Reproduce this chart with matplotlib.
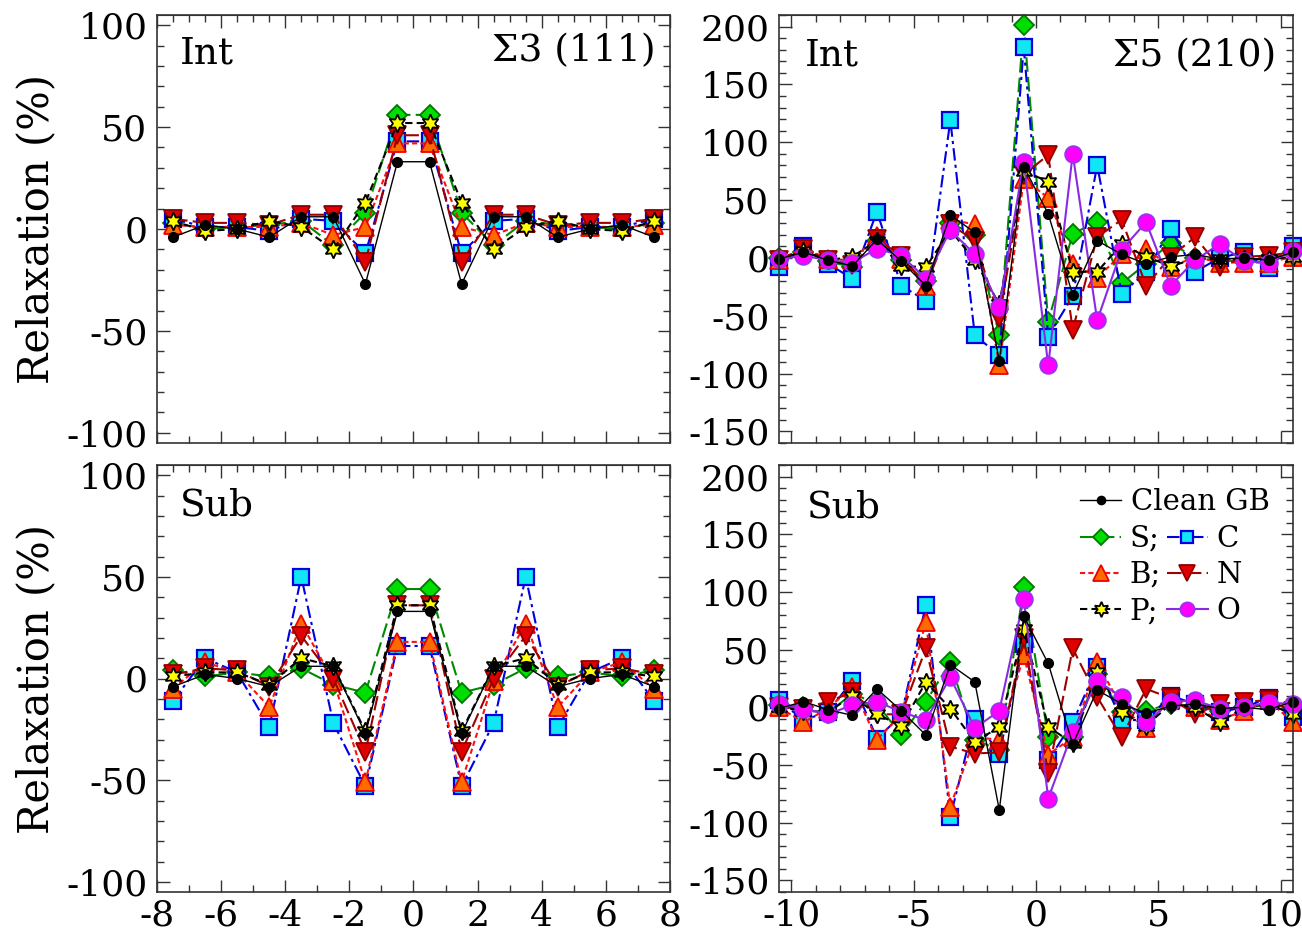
import matplotlib
matplotlib.use("Agg")
import matplotlib.pyplot as plt
from matplotlib.ticker import MultipleLocator, FuncFormatter
from matplotlib.lines import Line2D

plt.rcParams['font.family'] = ['DejaVu Serif']

# ---------------- data ----------------
x_s3 = [-7.5, -6.5, -5.5, -4.5, -3.5, -2.5, -1.5, -0.5, 0.5, 1.5, 2.5, 3.5, 4.5, 5.5, 6.5, 7.5]
x_s5 = [-10.5, -9.5, -8.5, -7.5, -6.5, -5.5, -4.5, -3.5, -2.5, -1.5, -0.5,
        0.5, 1.5, 2.5, 3.5, 4.5, 5.5, 6.5, 7.5, 8.5, 9.5, 10.5]

clean_s3 = [-4, 2, 0, -4, 6, 6, -27, 33, 33, -27, 6, 6, -4, 0, 2, -4]
clean_s5 = [-1, 5, -2, -7, 16, -3, -24, 37, 22, -89, 79, 38, -32, 15, 3, -5, 1, 3, -1, 0, -2, 5]

# Sigma3 (111) interstitial
s3_int_S = [3, 0, 1, 2, 4, -8, 8, 56, 56, 8, -8, 4, 2, 1, 0, 3]
s3_int_C = [5, 1, 1, -1, 5, 4, -12, 43, 43, -12, 4, 5, -1, 1, 1, 5]
s3_int_B = [2, 1, 1, 1, 3, -3, 1, 42, 42, 1, -3, 3, 1, 1, 1, 2]
s3_int_N = [5, 3, 3, 2, 7, 7, -16, 46, 46, -16, 7, 7, 2, 3, 3, 5]
s3_int_P = [4, -1, 0, 4, 1, -10, 13, 52, 52, 13, -10, 1, 4, 0, -1, 4]

# Sigma3 (111) substitutional
s3_sub_S = [4, 1, 3, 1, 5, -3, -7, 44, 44, -7, -3, 5, 1, 3, 1, 4]
s3_sub_C = [-11, 10, 3, -24, 50, -22, -53, 16, 16, -53, -22, 50, -24, 3, 10, -11]
s3_sub_B = [-5, 8, 3, -14, 27, -1, -51, 18, 18, -51, -1, 27, -14, 3, 8, -5]
s3_sub_N = [2, 5, 4, -4, 21, 0, -36, 36, 36, -36, 0, 21, -4, 4, 5, 2]
s3_sub_P = [1, 3, 3, -3, 10, 6, -26, 36, 36, -26, 6, 10, -3, 3, 3, 1]

# Sigma5 (210) interstitial
s5_int_S = [0, 5, -3, -8, 15, -2, -20, 30, 20, -67, 201, -55, 21, 31, -22, -5, 13, 0, -2, -3, 0, 5]
s5_int_C = [-8, 10, -5, -18, 40, -24, -37, 119, -67, -84, 182, -68, -33, 80, -31, -12, 25, -12, 0, 5, -9, 10]
s5_int_B = [-2, 9, -1, -2, 19, -1, -24, 33, 29, -93, 68, 52, -5, -17, 3, 8, -8, 1, -4, -4, -4, 1]
s5_int_N = [-2, 8, -2, -6, 16, 2, -24, 29, 15, -52, 72, 89, -62, 18, 33, -24, 1, 18, -8, 1, 2, 5]
s5_int_P = [-2, 6, -2, 1, 15, -7, -8, 24, -2, -40, 75, 66, -12, -12, 12, 1, -7, -1, -1, -1, -1, 1]
s5_int_O = [-1, 2, -2, -4, 8, 2, -18, 24, 3, -42, 83, -93, 90, -54, 7, 31, -24, -2, 12, -3, -4, 6]

# Sigma5 (210) substitutional
s5_sub_S = [2, 0, -5, 12, 3, -24, 5, 39, -28, -37, 104, -26, -26, 29, -4, -3, 3, 0, -3, 0, 2, -5]
s5_sub_C = [6, -11, -4, 23, -27, -7, 89, -95, -10, -40, 55, -46, -13, 35, -11, -11, 10, 3, -4, 0, 8, -8]
s5_sub_B = [0, -13, -1, 18, -28, -6, 74, -86, -26, -28, 45, -41, -26, 39, 0, -18, 8, 0, -11, -3, 6, -13]
s5_sub_N = [0, -1, 5, 13, -6, -6, 51, -34, -40, -39, 60, -57, 51, 9, -26, 16, 8, -6, 3, 5, 6, -3]
s5_sub_P = [0, -3, -4, 10, -6, -16, 22, -1, -30, -17, 68, -17, -31, 31, -4, -16, 3, 0, -13, 0, 3, -6]
s5_sub_O = [3, -1, -6, 2, 5, -4, -11, 26, -18, -3, 94, -79, -21, 23, 9, -13, 5, 6, -1, 0, 4, 3]

# ---------------- styles ----------------
STY = {
    'S': dict(color='#008a00', ls=(0, (7, 2.5)), lw=1.5, marker='D', ms=10,
              mfc='#00dd00', mec='#007700', mew=1.3),
    'C': dict(color='#0000e0', ls=(0, (6, 2, 1.5, 2)), lw=1.5, marker='s', ms=11,
              mfc='#11e6f5', mec='#0000e0', mew=1.6),
    'B': dict(color='#ff1010', ls=(0, (2.5, 1.5)), lw=1.5, marker='^', ms=13,
              mfc='#ff6a00', mec='#ee0000', mew=1.3),
    'N': dict(color='#a00000', ls=(0, (7, 2.5)), lw=1.5, marker='v', ms=13,
              mfc='#e00000', mec='#900000', mew=1.3),
    'P': dict(color='#000000', ls=(0, (3.5, 2)), lw=1.5, marker=(6, 1, 0), ms=13,
              mfc='#ffff00', mec='#000000', mew=1.3),
    'O': dict(color='#8a2be2', ls='-', lw=1.5, marker='o', ms=12,
              mfc='#ff00ff', mec='#9933ee', mew=1.3),
    'clean': dict(color='#000000', ls='-', lw=1.0, marker='o', ms=7,
                  mfc='#000000', mec='#000000', mew=1.0),
}

W, H = 1302, 938
fig = plt.figure(figsize=(W / 100, H / 100), dpi=100)


def px_axes(x0, y0, x1, y1):
    return fig.add_axes([x0 / W, 1 - y1 / H, (x1 - x0) / W, (y1 - y0) / H])


TICK_FS = 26


def style_axes(ax, xmaj, xmin, ymaj, ymin, top_minor):
    ax.xaxis.set_major_locator(MultipleLocator(xmaj))
    ax.xaxis.set_minor_locator(MultipleLocator(xmin))
    ax.yaxis.set_major_locator(MultipleLocator(ymaj))
    ax.yaxis.set_minor_locator(MultipleLocator(ymin))
    ax.tick_params(which='both', direction='in', top=False, right=True,
                   labelsize=TICK_FS, color='#333333', width=1.0)
    ax.tick_params(which='major', length=9)
    ax.tick_params(which='minor', length=5)
    for sp in ax.spines.values():
        sp.set_color('#333333')
        sp.set_linewidth(1.2)
    sec = ax.secondary_xaxis('top')
    sec.xaxis.set_major_locator(MultipleLocator(xmaj))
    sec.xaxis.set_minor_locator(MultipleLocator(top_minor))
    sec.tick_params(which='both', direction='in', labeltop=False, color='#333333', width=1.0)
    sec.tick_params(which='major', length=9)
    sec.tick_params(which='minor', length=5)
    sec.spines['top'].set_color('#333333')
    ax.xaxis.set_major_formatter(FuncFormatter(lambda v, p: '%d' % v))
    ax.yaxis.set_major_formatter(FuncFormatter(lambda v, p: '%d' % v))


def plot_series(ax, x, series):
    for key, y in series:
        st = STY[key]
        ax.plot(x, y, color=st['color'], ls=st['ls'], lw=st['lw'], marker=st['marker'],
                ms=st['ms'], mfc=st['mfc'], mec=st['mec'], mew=st['mew'], clip_on=False)


# panels
ax1 = px_axes(157, 15, 670, 443)
ax2 = px_axes(779, 15, 1293, 443)
ax3 = px_axes(157, 465, 670, 892)
ax4 = px_axes(779, 465, 1293, 892)

plot_series(ax1, x_s3, [('S', s3_int_S), ('C', s3_int_C), ('B', s3_int_B), ('N', s3_int_N),
                        ('P', s3_int_P), ('clean', clean_s3)])
plot_series(ax3, x_s3, [('S', s3_sub_S), ('C', s3_sub_C), ('B', s3_sub_B), ('N', s3_sub_N),
                        ('P', s3_sub_P), ('clean', clean_s3)])
plot_series(ax2, x_s5, [('S', s5_int_S), ('C', s5_int_C), ('B', s5_int_B), ('N', s5_int_N),
                        ('P', s5_int_P), ('O', s5_int_O), ('clean', clean_s5)])
plot_series(ax4, x_s5, [('S', s5_sub_S), ('C', s5_sub_C), ('B', s5_sub_B), ('N', s5_sub_N),
                        ('P', s5_sub_P), ('O', s5_sub_O), ('clean', clean_s5)])

for ax in (ax1, ax3):
    ax.set_xlim(-8, 8)
    ax.set_ylim(-105, 105)
    style_axes(ax, 2, 1, 50, 10, 0.5)
    ax.set_ylabel('Relaxation (%)', fontsize=30)
    ax.yaxis.set_label_coords(-0.195, 0.5)
for ax in (ax2, ax4):
    ax.set_xlim(-10.5, 10.5)
    ax.set_ylim(-160, 210)
    style_axes(ax, 5, 1, 50, 10, 1)

ax1.tick_params(labelbottom=False)
ax2.tick_params(labelbottom=False)
for ax in (ax1, ax2, ax3, ax4):
    ax.tick_params(axis='x', pad=5)
    ax.tick_params(axis='y', pad=7)

LBL_FS = 27
ax1.text(0.045, 0.91, 'Int', transform=ax1.transAxes, fontsize=LBL_FS, va='center', ha='left')
ax1.text(0.972, 0.915, 'Σ3 (111)', transform=ax1.transAxes, fontsize=LBL_FS, va='center', ha='right')
ax2.text(0.05, 0.905, 'Int', transform=ax2.transAxes, fontsize=LBL_FS, va='center', ha='left')
ax2.text(0.968, 0.905, 'Σ5 (210)', transform=ax2.transAxes, fontsize=LBL_FS, va='center', ha='right')
ax3.text(0.045, 0.905, 'Sub', transform=ax3.transAxes, fontsize=LBL_FS, va='center', ha='left')
ax4.text(0.055, 0.9, 'Sub', transform=ax4.transAxes, fontsize=LBL_FS, va='center', ha='left')


def leg_handle(key):
    st = STY[key]
    return Line2D([], [], color=st['color'], ls=st['ls'], lw=st['lw'], marker=st['marker'],
                  ms=st['ms'] * 0.85, mfc=st['mfc'], mec=st['mec'], mew=st['mew'])


LEG_FS = 21
leg1 = ax4.legend([leg_handle('clean')], ['Clean GB'], loc='upper left',
                  bbox_to_anchor=(0.586, 0.945), frameon=False, fontsize=LEG_FS,
                  handlelength=1.4, handletextpad=0.35, borderpad=0, borderaxespad=0)
ax4.add_artist(leg1)
ax4.legend([leg_handle('S'), leg_handle('B'), leg_handle('P'),
            leg_handle('C'), leg_handle('N'), leg_handle('O')],
           ['S;', 'B;', 'P;', 'C', 'N', 'O'], ncol=2, loc='upper left',
           bbox_to_anchor=(0.586, 0.86), frameon=False, fontsize=LEG_FS,
           handlelength=1.4, handletextpad=0.3, columnspacing=0.2,
           labelspacing=0.28, borderpad=0, borderaxespad=0)

fig.savefig('out.png', dpi=100)
